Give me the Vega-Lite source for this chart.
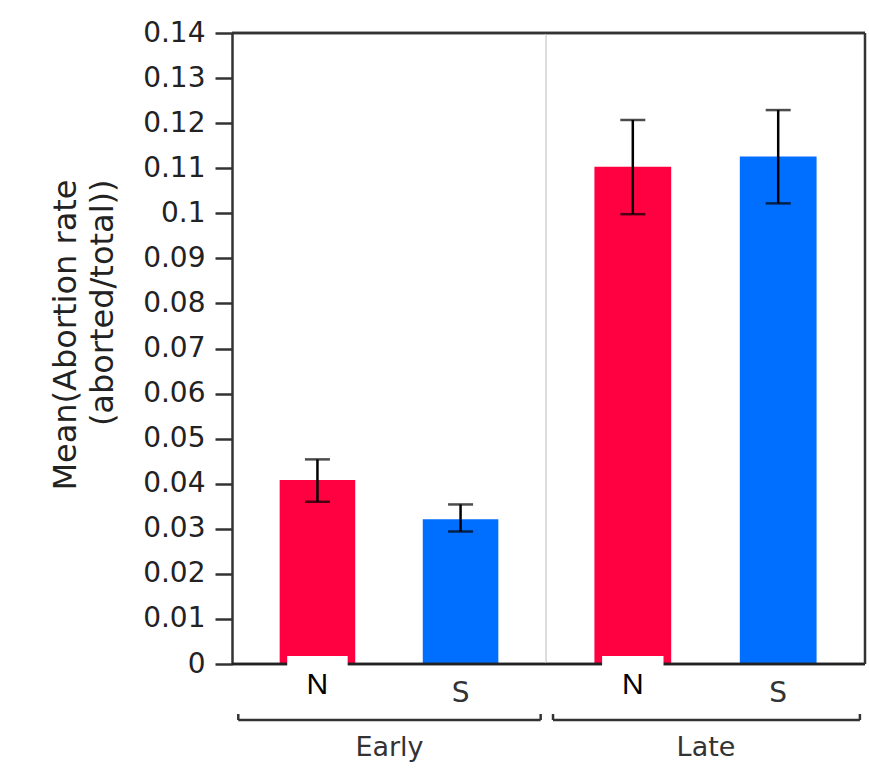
{
  "$schema": "https://vega.github.io/schema/vega-lite/v6.json",
  "background": "white",
  "padding": {"left": 49, "top": 19, "right": 2, "bottom": 5},
  "bounds": "flush",
  "data": {"values": [
    {"period": "Early", "sex": "N", "mean": 0.0408, "lo": 0.0360, "hi": 0.0454},
    {"period": "Early", "sex": "S", "mean": 0.0321, "lo": 0.0294, "hi": 0.0354},
    {"period": "Late", "sex": "N", "mean": 0.1103, "lo": 0.0998, "hi": 0.1207},
    {"period": "Late", "sex": "S", "mean": 0.1126, "lo": 0.1022, "hi": 0.1229}
  ]},
  "spacing": 0,
  "hconcat": [
    {
      "width": 314,
      "height": 631,
      "transform": [{"filter": "datum.period === 'Early'"}],
      "layer": [
        {
          "layer": [
            {
              "mark": {"type": "bar"},
              "encoding": {
                "x": {
                  "field": "sex", "type": "nominal", "sort": ["N", "S"],
                  "scale": {"paddingInner": 0.472, "paddingOuter": 0.333},
                  "axis": {
                    "title": "Early", "titleFont": "DejaVu Sans", "titleFontSize": 27, "titleFontWeight": "normal", "titleColor": "#333", "titlePadding": 27,
                    "ticks": false, "tickSize": 0, "domain": false,
                    "labelPadding": 29, "labelAngle": 0,
                    "labelFont": {"condition": {"test": "datum.value === 'N'", "value": "Liberation Sans"}, "value": "DejaVu Sans"},
                    "labelFontSize": {"condition": {"test": "datum.value === 'N'", "value": 30}, "value": 28},
                    "labelColor": {"condition": {"test": "datum.value === 'N'", "value": "#000000"}, "value": "#333333"},
                    "labelBaseline": {"condition": {"test": "datum.value === 'N'", "value": "alphabetic"}, "value": "middle"}
                  }
                },
                "y": {
                  "field": "mean", "type": "quantitative",
                  "scale": {"domain": [0, 0.14], "nice": false},
                  "axis": {
                    "values": [0, 0.01, 0.02, 0.03, 0.04, 0.05, 0.06, 0.07, 0.08, 0.09, 0.1, 0.11, 0.12, 0.13, 0.14],
                    "format": "~g", "grid": false,
                    "domainColor": "#333", "domainWidth": 2.5,
                    "tickColor": "#333", "tickWidth": 2.5, "tickSize": 17,
                    "labelPadding": 10, "labelFont": "DejaVu Sans", "labelFontSize": 28, "labelColor": "#222",
                    "title": ["Mean(Abortion rate", "(aborted/total))"],
                    "titleFont": "DejaVu Sans", "titleFontSize": 32, "titleFontWeight": "normal", "titleColor": "#222",
                    "titleLineHeight": 37, "titleAlign": "right", "titleY": 146, "titlePadding": 23
                  }
                },
                "color": {
                  "field": "sex", "type": "nominal",
                  "scale": {"domain": ["N", "S"], "range": ["#FF0041", "#006FFF"]},
                  "legend": null
                }
              }
            },
            {
              "mark": {"type": "rule", "color": "#000000", "strokeWidth": 2.5},
              "encoding": {
                "x": {"field": "sex", "type": "nominal", "sort": ["N", "S"]},
                "y": {"field": "lo", "type": "quantitative"},
                "y2": {"field": "hi"}
              }
            },
            {
              "mark": {"type": "tick", "color": "#000000", "thickness": 2.5, "size": 25, "orient": "horizontal"},
              "encoding": {
                "x": {"field": "sex", "type": "nominal", "sort": ["N", "S"]},
                "y": {"field": "hi", "type": "quantitative"}
              }
            },
            {
              "mark": {"type": "tick", "color": "#000000", "thickness": 2.5, "size": 25, "orient": "horizontal"},
              "encoding": {
                "x": {"field": "sex", "type": "nominal", "sort": ["N", "S"]},
                "y": {"field": "lo", "type": "quantitative"}
              }
            },
            {
              "mark": {"type": "rule", "color": "#222", "strokeWidth": 2.5},
              "encoding": {"y": {"datum": 0}}
            },
            {
              "transform": [{"filter": "datum.sex === 'N'"}],
              "mark": {"type": "bar", "color": "white", "width": {"band": 0.8}},
              "encoding": {
                "x": {"field": "sex", "type": "nominal", "sort": ["N", "S"]},
                "y": {"datum": 0.0018},
                "y2": {"datum": -0.0013}
              }
            },
            {
              "mark": {"type": "rule", "color": "#333", "strokeWidth": 2.5},
              "encoding": {"y": {"datum": 0.14}}
            }
          ]
        },
        {
          "transform": [{"filter": "datum.sex === 'S'"}],
          "layer": [
            {
              "mark": {"type": "rule", "color": "#333", "strokeWidth": 2.5},
              "encoding": {
                "x": {"datum": 0.02, "type": "quantitative", "scale": {"domain": [0, 1], "nice": false, "zero": false}, "axis": null},
                "x2": {"datum": 0.983},
                "y": {"datum": -0.01242}
              }
            },
            {
              "mark": {"type": "rule", "color": "#333", "strokeWidth": 2.5},
              "encoding": {
                "x": {"datum": 0.02, "type": "quantitative"},
                "y": {"datum": -0.01242},
                "y2": {"datum": -0.0111}
              }
            },
            {
              "mark": {"type": "rule", "color": "#333", "strokeWidth": 2.5},
              "encoding": {
                "x": {"datum": 0.983, "type": "quantitative"},
                "y": {"datum": -0.01242},
                "y2": {"datum": -0.0111}
              }
            },
            {
              "mark": {"type": "rule", "color": "#dddddd", "strokeWidth": 2},
              "encoding": {
                "x": {"datum": 1, "type": "quantitative"},
                "y": {"datum": 0.0003},
                "y2": {"datum": 0.1397}
              }
            }
          ]
        }
      ],
      "resolve": {"scale": {"x": "independent"}}
    },
    {
      "width": 319,
      "height": 631,
      "transform": [{"filter": "datum.period === 'Late'"}],
      "layer": [
        {
          "layer": [
            {
              "mark": {"type": "bar"},
              "encoding": {
                "x": {
                  "field": "sex", "type": "nominal", "sort": ["N", "S"],
                  "scale": {"paddingInner": 0.472, "paddingOuter": 0.333},
                  "axis": {
                    "title": "Late", "titleFont": "DejaVu Sans", "titleFontSize": 27, "titleFontWeight": "normal", "titleColor": "#333", "titlePadding": 27,
                    "ticks": false, "tickSize": 0, "domain": false,
                    "labelPadding": 29, "labelAngle": 0,
                    "labelFont": {"condition": {"test": "datum.value === 'N'", "value": "Liberation Sans"}, "value": "DejaVu Sans"},
                    "labelFontSize": {"condition": {"test": "datum.value === 'N'", "value": 30}, "value": 28},
                    "labelColor": {"condition": {"test": "datum.value === 'N'", "value": "#000000"}, "value": "#333333"},
                    "labelBaseline": {"condition": {"test": "datum.value === 'N'", "value": "alphabetic"}, "value": "middle"}
                  }
                },
                "y": {
                  "field": "mean", "type": "quantitative",
                  "scale": {"domain": [0, 0.14], "nice": false},
                  "axis": null
                },
                "color": {
                  "field": "sex", "type": "nominal",
                  "scale": {"domain": ["N", "S"], "range": ["#FF0041", "#006FFF"]},
                  "legend": null
                }
              }
            },
            {
              "mark": {"type": "rule", "color": "#000000", "strokeWidth": 2.5},
              "encoding": {
                "x": {"field": "sex", "type": "nominal", "sort": ["N", "S"]},
                "y": {"field": "lo", "type": "quantitative"},
                "y2": {"field": "hi"}
              }
            },
            {
              "mark": {"type": "tick", "color": "#000000", "thickness": 2.5, "size": 25, "orient": "horizontal"},
              "encoding": {
                "x": {"field": "sex", "type": "nominal", "sort": ["N", "S"]},
                "y": {"field": "hi", "type": "quantitative"}
              }
            },
            {
              "mark": {"type": "tick", "color": "#000000", "thickness": 2.5, "size": 25, "orient": "horizontal"},
              "encoding": {
                "x": {"field": "sex", "type": "nominal", "sort": ["N", "S"]},
                "y": {"field": "lo", "type": "quantitative"}
              }
            },
            {
              "mark": {"type": "rule", "color": "#222", "strokeWidth": 2.5},
              "encoding": {"y": {"datum": 0}}
            },
            {
              "transform": [{"filter": "datum.sex === 'N'"}],
              "mark": {"type": "bar", "color": "white", "width": {"band": 0.8}},
              "encoding": {
                "x": {"field": "sex", "type": "nominal", "sort": ["N", "S"]},
                "y": {"datum": 0.0018},
                "y2": {"datum": -0.0013}
              }
            },
            {
              "mark": {"type": "rule", "color": "#333", "strokeWidth": 2.5},
              "encoding": {"y": {"datum": 0.14}}
            }
          ]
        },
        {
          "transform": [{"filter": "datum.sex === 'S'"}],
          "layer": [
            {
              "mark": {"type": "rule", "color": "#333", "strokeWidth": 2.5},
              "encoding": {
                "x": {"datum": 0.022, "type": "quantitative", "scale": {"domain": [0, 1], "nice": false, "zero": false}, "axis": null},
                "x2": {"datum": 0.984},
                "y": {"datum": -0.01242}
              }
            },
            {
              "mark": {"type": "rule", "color": "#333", "strokeWidth": 2.5},
              "encoding": {
                "x": {"datum": 0.022, "type": "quantitative"},
                "y": {"datum": -0.01242},
                "y2": {"datum": -0.0111}
              }
            },
            {
              "mark": {"type": "rule", "color": "#333", "strokeWidth": 2.5},
              "encoding": {
                "x": {"datum": 0.984, "type": "quantitative"},
                "y": {"datum": -0.01242},
                "y2": {"datum": -0.0111}
              }
            },
            {
              "mark": {"type": "rule", "color": "#333", "strokeWidth": 2.5},
              "encoding": {
                "x": {"datum": 1, "type": "quantitative"},
                "y": {"datum": 0},
                "y2": {"datum": 0.14}
              }
            }
          ]
        }
      ],
      "resolve": {"scale": {"x": "independent"}}
    }
  ],
  "config": {
    "view": {"stroke": null},
    "font": "DejaVu Sans"
  }
}
